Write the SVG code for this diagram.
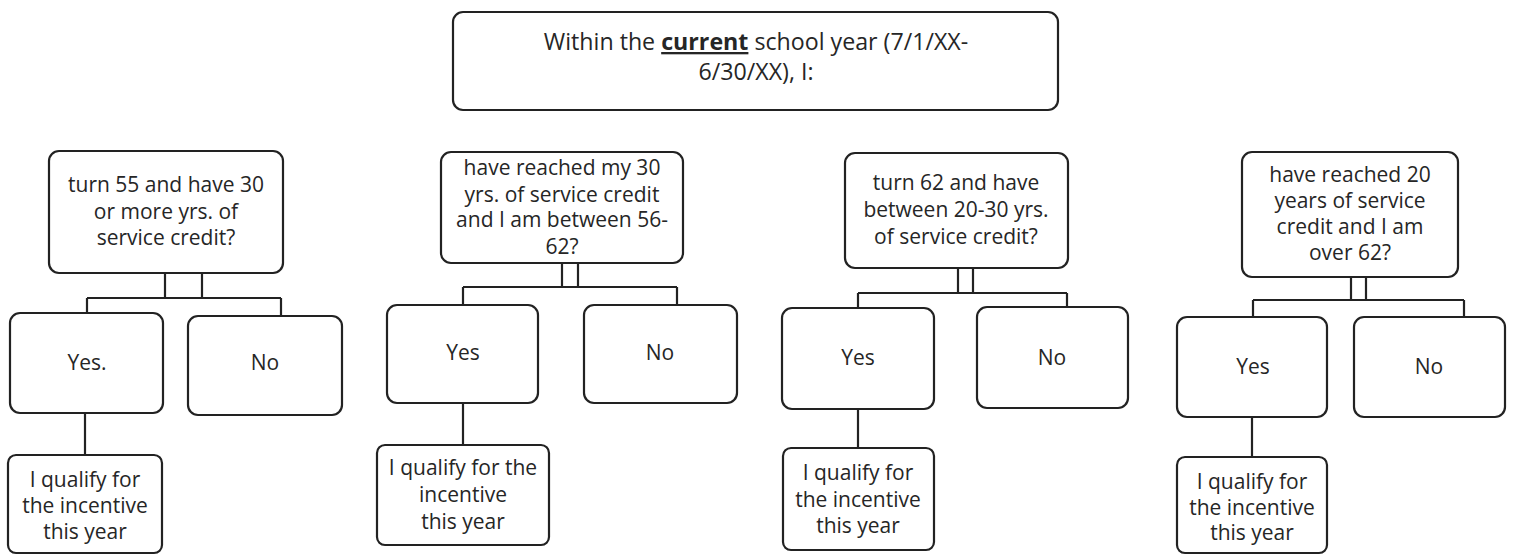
<svg xmlns="http://www.w3.org/2000/svg" width="1513" height="555" viewBox="0 0 1513 555">
<style>
.box{fill:#fff;stroke:#222;stroke-width:2.2}
.c{fill:none;stroke:#222;stroke-width:2.2}
text{font-family:"Open Sans","Liberation Sans",sans-serif;font-size:21px;fill:#262626;text-anchor:middle}
.big{font-size:23.2px}
</style>
<rect width="1513" height="555" fill="#fff"/>
<g id="connectors">
<path class="c" d="M165 273V298M202 273V298M87 298H281M87 298V313M281 298V316M85 413V455"/>
<path class="c" d="M562 263V287M578 263V287M463 287H677M463 287V305M677 287V305M463 403V445"/>
<path class="c" d="M958 268V293M973 268V293M858 293H1067M858 293V308M1067 293V307M858 409V448"/>
<path class="c" d="M1351 277V300M1366 277V300M1253 300H1464M1253 300V317M1464 300V317M1252 417V457"/>
</g>
<g id="top">
<rect class="box" x="453" y="12" width="605" height="98" rx="10"/>
<text class="big" x="756" y="50">Within the <tspan font-weight="bold" text-decoration="underline">current</tspan> school year (7/1/XX-</text>
<text class="big" x="756" y="80">6/30/XX), I:</text>
</g>
<g id="q1">
<rect class="box" x="49" y="151" width="234" height="122" rx="10"/>
<text x="166" y="192">turn 55 and have 30</text>
<text x="166" y="219">or more yrs. of</text>
<text x="166" y="245">service credit?</text>
</g>
<g id="yes1"><rect class="box" x="10" y="313" width="153" height="100" rx="10"/><text x="87" y="370">Yes.</text></g>
<g id="no1"><rect class="box" x="188" y="316" width="154" height="99" rx="10"/><text x="265" y="370">No</text></g>
<g id="res1"><rect class="box" x="8" y="455" width="154" height="98" rx="8"/>
<text x="85" y="487">I qualify for</text><text x="85" y="513">the incentive</text><text x="85" y="539">this year</text></g>
<g id="q2">
<rect class="box" x="441" y="152" width="242" height="111" rx="10"/>
<text x="562" y="175">have reached my 30</text>
<text x="562" y="202">yrs. of service credit</text>
<text x="562" y="227">and I am between 56-</text>
<text x="562" y="254">62?</text>
</g>
<g id="yes2"><rect class="box" x="387" y="305" width="151" height="98" rx="10"/><text x="463" y="360">Yes</text></g>
<g id="no2"><rect class="box" x="584" y="305" width="153" height="98" rx="10"/><text x="660" y="360">No</text></g>
<g id="res2"><rect class="box" x="377" y="445" width="172" height="100" rx="8"/>
<text x="463" y="475">I qualify for the</text><text x="463" y="502">incentive</text><text x="463" y="529">this year</text></g>
<g id="q3">
<rect class="box" x="845" y="153" width="223" height="115" rx="10"/>
<text x="956" y="190">turn 62 and have</text>
<text x="956" y="217">between 20-30 yrs.</text>
<text x="956" y="244">of service credit?</text>
</g>
<g id="yes3"><rect class="box" x="782" y="308" width="152" height="101" rx="10"/><text x="858" y="365">Yes</text></g>
<g id="no3"><rect class="box" x="977" y="307" width="151" height="101" rx="10"/><text x="1052" y="365">No</text></g>
<g id="res3"><rect class="box" x="783" y="448" width="151" height="102" rx="8"/>
<text x="858" y="480">I qualify for</text><text x="858" y="507">the incentive</text><text x="858" y="533">this year</text></g>
<g id="q4">
<rect class="box" x="1242" y="152" width="216" height="125" rx="10"/>
<text x="1350" y="182">have reached 20</text>
<text x="1350" y="208">years of service</text>
<text x="1350" y="234">credit and I am</text>
<text x="1350" y="260">over 62?</text>
</g>
<g id="yes4"><rect class="box" x="1177" y="317" width="150" height="100" rx="10"/><text x="1253" y="374">Yes</text></g>
<g id="no4"><rect class="box" x="1354" y="317" width="151" height="100" rx="10"/><text x="1429" y="374">No</text></g>
<g id="res4"><rect class="box" x="1177" y="457" width="150" height="96" rx="8"/>
<text x="1252" y="489">I qualify for</text><text x="1252" y="515">the incentive</text><text x="1252" y="540">this year</text></g>
</svg>
